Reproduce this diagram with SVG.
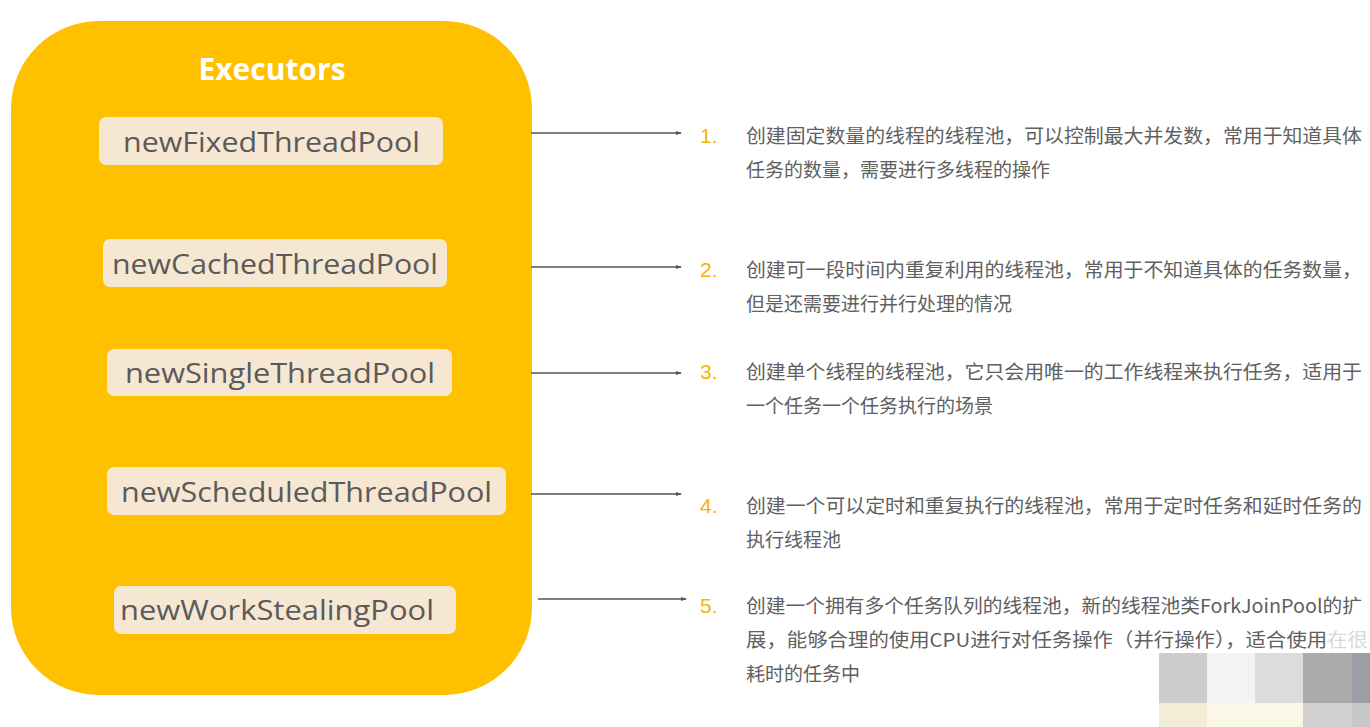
<svg xmlns="http://www.w3.org/2000/svg" width="1370" height="727" viewBox="0 0 1370 727">
<defs>
<style>
.bg{fill:#FFC000}
.pill{fill:#F6E7D2}
.ptxt{font-family:"Open Sans","Liberation Sans",sans-serif;font-size:28px;fill:#5a5a5a}
.title{font-family:"Open Sans","Liberation Sans",sans-serif;font-size:30px;font-weight:bold;fill:#ffffff}
.num{font-family:"Liberation Sans","Noto Sans",sans-serif;font-size:21px;fill:#F5B400}
.desc{font-family:"Noto Sans CJK SC","Noto Sans",sans-serif;font-size:19px;fill:#606060}
.conn{stroke:#555555;stroke-width:1.3;fill:none;marker-end:url(#ah)}
</style>
<marker id="ah" markerWidth="6" markerHeight="6" refX="5" refY="3" orient="auto" markerUnits="userSpaceOnUse">
<path d="M0,1 L6,3 L0,5 Z" fill="#555555"/>
</marker>
</defs>
<rect width="1370" height="727" fill="#ffffff"/>
<g id="executors">
<rect class="bg" x="11" y="21" width="521" height="674" rx="88" ry="88"/>
<text class="title" x="272" y="80" text-anchor="middle">Executors</text>
</g>
<g id="newFixedThreadPool">
<rect class="pill" x="99" y="117" width="344" height="48" rx="7"/>
<text class="ptxt" x="123" y="152" textLength="297" lengthAdjust="spacingAndGlyphs">newFixedThreadPool</text>
</g>
<g id="newCachedThreadPool">
<rect class="pill" x="103" y="239" width="344" height="48" rx="7"/>
<text class="ptxt" x="112" y="274" textLength="326" lengthAdjust="spacingAndGlyphs">newCachedThreadPool</text>
</g>
<g id="newSingleThreadPool">
<rect class="pill" x="107" y="349" width="345" height="47" rx="7"/>
<text class="ptxt" x="125" y="383" textLength="310" lengthAdjust="spacingAndGlyphs">newSingleThreadPool</text>
</g>
<g id="newScheduledThreadPool">
<rect class="pill" x="107" y="467" width="399" height="48" rx="7"/>
<text class="ptxt" x="121" y="502" textLength="371" lengthAdjust="spacingAndGlyphs">newScheduledThreadPool</text>
</g>
<g id="newWorkStealingPool">
<rect class="pill" x="114" y="586" width="342" height="48" rx="7"/>
<text class="ptxt" x="120" y="620" textLength="314" lengthAdjust="spacingAndGlyphs">newWorkStealingPool</text>
</g>
<g id="connectors">
<line class="conn" x1="531" y1="133" x2="681" y2="133"/>
<line class="conn" x1="531" y1="267" x2="681" y2="267"/>
<line class="conn" x1="531" y1="373" x2="681" y2="373"/>
<line class="conn" x1="531" y1="494" x2="681" y2="494"/>
<line class="conn" x1="538" y1="599" x2="686" y2="599"/>
</g>
<g id="desc1">
<text class="num" x="700" y="143">1.</text>
<text class="desc" x="746" y="143" textLength="616" lengthAdjust="spacingAndGlyphs">创建固定数量的线程的线程池，可以控制最大并发数，常用于知道具体</text>
<text class="desc" x="746" y="177">任务的数量，需要进行多线程的操作</text>
</g>
<g id="desc2">
<text class="num" x="700" y="277">2.</text>
<text class="desc" x="746" y="277" textLength="616" lengthAdjust="spacingAndGlyphs">创建可一段时间内重复利用的线程池，常用于不知道具体的任务数量，</text>
<text class="desc" x="746" y="311">但是还需要进行并行处理的情况</text>
</g>
<g id="desc3">
<text class="num" x="700" y="379">3.</text>
<text class="desc" x="746" y="379" textLength="616" lengthAdjust="spacingAndGlyphs">创建单个线程的线程池，它只会用唯一的工作线程来执行任务，适用于</text>
<text class="desc" x="746" y="413">一个任务一个任务执行的场景</text>
</g>
<g id="desc4">
<text class="num" x="700" y="513">4.</text>
<text class="desc" x="746" y="513" textLength="616" lengthAdjust="spacingAndGlyphs">创建一个可以定时和重复执行的线程池，常用于定时任务和延时任务的</text>
<text class="desc" x="746" y="547">执行线程池</text>
</g>
<g id="desc5">
<text class="num" x="700" y="613">5.</text>
<text class="desc" x="746" y="613" textLength="616" lengthAdjust="spacingAndGlyphs">创建一个拥有多个任务队列的线程池，新的线程池类ForkJoinPool的扩</text>
<text class="desc" x="746" y="647" textLength="622" lengthAdjust="spacingAndGlyphs">展，能够合理的使用CPU进行对任务操作（并行操作），适合使用<tspan fill="#d8d8d8">在很</tspan></text>
<text class="desc" x="746" y="681">耗时的任务中</text>
</g>
<g id="mosaic">
<rect x="1159" y="653" width="48" height="50" fill="#CCCCCC"/>
<rect x="1207" y="653" width="48" height="50" fill="#F3F3F3"/>
<rect x="1255" y="653" width="48" height="50" fill="#DCDCDC"/>
<rect x="1303" y="653" width="49" height="50" fill="#ABABAB"/>
<rect x="1352" y="653" width="18" height="50" fill="#9E9CA4"/>
<rect x="1159" y="703" width="48" height="24" fill="#F3EDD6"/>
<rect x="1207" y="703" width="96" height="24" fill="#FBF7E6"/>
<rect x="1303" y="703" width="49" height="24" fill="#D0D0D0"/>
<rect x="1352" y="703" width="18" height="24" fill="#C8C8C8"/>
</g>
</svg>
